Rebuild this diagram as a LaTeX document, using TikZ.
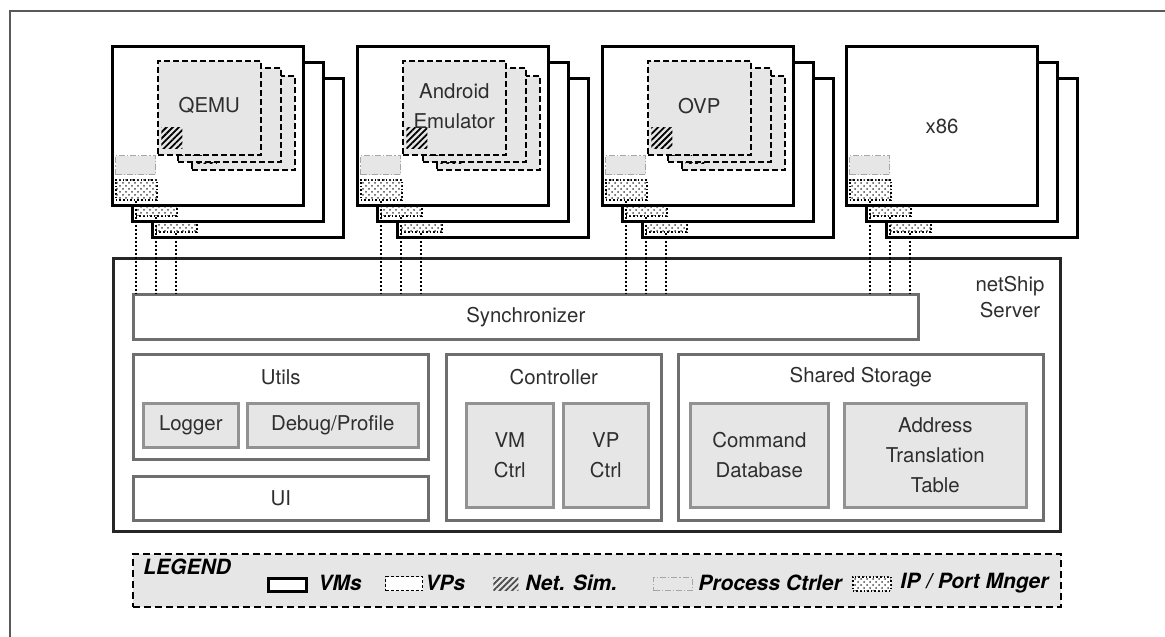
\documentclass[tikz,border=0pt]{standalone}
\usepackage{fontspec}
\setmainfont{TeX Gyre Heros}
\usetikzlibrary{patterns,patterns.meta,positioning}
\definecolor{boxgray}{HTML}{6E6E6E}
\definecolor{fillgray}{HTML}{E6E6E6}
\definecolor{txtgray}{HTML}{2E2E2E}
\begin{document}
\begin{tikzpicture}[x=0.5pt,y=-0.5pt,
  every node/.style={font=\fontsize{10.2}{15}\selectfont, text=txtgray, inner sep=0pt, align=center},
  sz/.style 2 args={minimum width=#1*0.5pt, minimum height=#2*0.5pt, anchor=north west},
  vmbox/.style={draw=black, line width=1.5pt, fill=white},
  vpbox/.style={draw=black, line width=0.8pt, dash pattern=on 3pt off 1.5pt, fill=fillgray},
  netsim/.style={pattern={Lines[angle=45,distance=2.2pt,line width=0.9pt]}, pattern color=black},
  procctl/.style={draw=black!35, line width=0.6pt, dash pattern=on 3pt off 1pt on 0.6pt off 1pt, fill=fillgray},
  ipport/.style={draw=black, line width=0.8pt, densely dotted, fill=white, postaction={pattern=crosshatch dots, pattern color=black!70}},
  outerbox/.style={draw=boxgray, line width=1.3pt, fill=white},
  innerbox/.style={draw=boxgray!75, line width=1.3pt, fill=fillgray},
  legtxt/.style={font=\fontsize{10.5}{12}\selectfont\bfseries\itshape, text=black, anchor=west},
  link/.style={densely dotted, line width=1pt}
]
\useasboundingbox (0,0) rectangle (1165,636);
\draw[black!65, line width=0.8pt] (10,650) -- (10,11) -- (1180,11);

% server
\node[draw=black!85, line width=1.4pt, sz={947}{273}] (server) at (112,257) {};
\node (srvlbl) at (1010,297) {netShip\\[-2pt]Server};
\node[outerbox, sz={785}{45}] (sync) at (132,293) {Synchronizer};
\node[outerbox, sz={295}{105}] (utils) at (132,353) {};
\node (utilsl) at ([yshift=-12pt]utils.north) {Utils};
\node[innerbox, sz={95}{44}] (logger) at (142,402) {Logger};
\node[innerbox, sz={171}{44}] (debug) at (246,402) {Debug/Profile};
\node[outerbox, sz={295}{44}] (ui) at (132,475) {UI};
\node[outerbox, sz={215}{166}] (ctrl) at (445,353) {};
\node (ctrll) at ([yshift=-12pt]ctrl.north) {Controller};
\node[innerbox, sz={87}{104}] (vmctrl) at (465,402) {VM\\Ctrl};
\node[innerbox, sz={85}{104}] (vpctrl) at (562,402) {VP\\Ctrl};
\node[outerbox, sz={365}{166}] (shared) at (677,353) {};
\node (sharedl) at ([yshift=-12pt]shared.north) {Shared Storage};
\node[innerbox, sz={138}{104}] (cmddb) at (689,402) {Command\\Database};
\node[innerbox, sz={182}{104}] (addr) at (843,402) {Address\\Translation\\Table};

% vm groups
\foreach \gx/\lbl [count=\g] in {111/QEMU, 356/{Android\\Emulator}, 601/OVP, 845/x86} {
  \foreach \l/\dx/\dy in {3/40/32, 2/20/16, 1/0/0} {
    \node[vmbox, sz={191}{159}] (vm-\g-\l) at (\gx+\dx,45+\dy) {};
    \ifnum\l=1
      \node[procctl, sz={40}{19}] (pc-\g-\l) at (\gx+\dx+4,45+\dy+110) {};
    \fi
    \node[ipport, sz={41}{20}] (ip-\g-\l) at (\gx+\dx+4,45+\dy+134) {};
  }
  \ifnum\g<4
    \foreach \l/\dx/\dy in {3/34/15, 2/20/7, 1/0/0} {
      \node[vpbox, sz={103}{94}] (vp-\g-\l) at (\gx+46+\dx,60+\dy) {};
      \node[netsim, sz={21}{21}] (ns-\g-\l) at (\gx+50+\dx,127+\dy) {};
    }
    \node (vpl-\g) at ([yshift=1pt]vp-\g-1.center) {\lbl};
  \else
    \node (vml-\g) at (vm-\g-1.center) {\lbl};
  \fi
  \foreach \l in {1,2,3}
    \draw[link] (ip-\g-\l.south) -- (ip-\g-\l.south |- sync.north);
}

% legend
\node[draw=black, line width=0.9pt, dash pattern=on 3.5pt off 2pt, fill=fillgray, sz={928}{53}] (legend) at (132,553) {};
\node[legtxt] (legl) at (143,567) {LEGEND};
\node[vmbox, line width=1.3pt, sz={38}{13}] (legvm) at (267,577) {};
\node[legtxt] (legvmt) at (318,583) {VMs};
\node[draw=black, line width=0.6pt, dash pattern=on 1.5pt off 1pt, fill=white, sz={37}{14}] (legvp) at (385,576) {};
\node[legtxt] (legvpt) at (425,583) {VPs};
\node[netsim, pattern color=black!70, sz={25}{13}] (legns) at (493,577) {};
\node[legtxt] (legnst) at (525,583) {Net. Sim.};
\node[procctl, sz={39}{13}] (legpc) at (653,577) {};
\node[legtxt] (legpct) at (698,583) {Process Ctrler};
\node[ipport, sz={38}{14}] (legip) at (852,576) {};
\node[legtxt] (legipt) at (900,583) {IP / Port Mnger};
\end{tikzpicture}
\end{document}
